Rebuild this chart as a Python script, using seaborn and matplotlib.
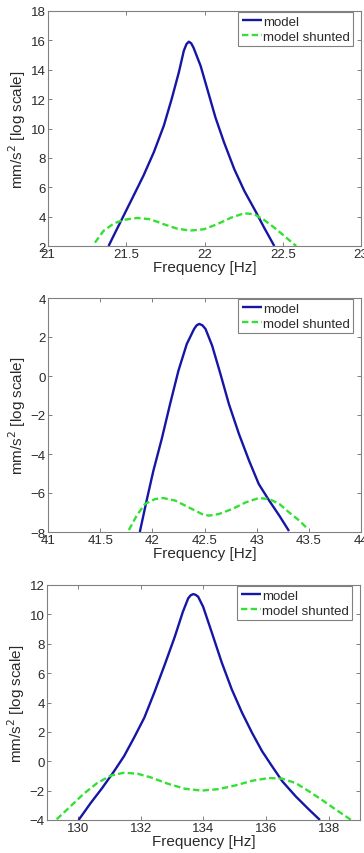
import numpy as np
import pandas as pd
import matplotlib
matplotlib.use("Agg")
import matplotlib.pyplot as plt
import seaborn as sns

sns.set_style("white")
plt.rcParams['font.family'] = ['Liberation Sans', 'DejaVu Sans']

# ---------------- data ----------------
# Panel 1 (around 22 Hz)
p1_model_x = [21.387, 21.43, 21.483, 21.547, 21.61, 21.676, 21.74, 21.79, 21.836, 21.868, 21.885, 21.90,
              21.915, 21.93, 21.975, 22.018, 22.07, 22.125, 22.19, 22.254, 22.33, 22.38, 22.446]
p1_model_y = [2.0, 2.93, 4.06, 5.43, 6.79, 8.38, 10.19, 12.0, 13.82, 15.3, 15.75, 15.91,
              15.8, 15.5, 14.27, 12.68, 10.75, 9.05, 7.24, 5.76, 4.29, 3.27, 2.0]
p1_shunt_x = [21.30, 21.354, 21.42, 21.483, 21.57, 21.654, 21.74, 21.825, 21.91, 21.997,
              22.08, 22.17, 22.254, 22.318, 22.38, 22.446, 22.51, 22.586]
p1_shunt_y = [2.23, 3.02, 3.53, 3.78, 3.91, 3.82, 3.48, 3.18, 3.05, 3.14,
              3.48, 3.93, 4.23, 4.16, 3.78, 3.25, 2.68, 2.0]

# Panel 2 (around 42.5 Hz)
p2_model_x = [41.88, 41.945, 42.01, 42.09, 42.17, 42.25, 42.33, 42.40, 42.425, 42.45, 42.48, 42.51,
              42.573, 42.653, 42.734, 42.83, 42.927, 43.02, 43.12, 43.217, 43.31]
p2_model_y = [-8.0, -6.39, -4.86, -3.23, -1.44, 0.27, 1.64, 2.41, 2.6, 2.67, 2.6, 2.41,
              1.56, 0.1, -1.44, -2.97, -4.34, -5.54, -6.39, -7.16, -7.95]
p2_shunt_x = [41.775, 41.85, 41.93, 42.026, 42.106, 42.22, 42.35, 42.476, 42.54, 42.637,
              42.766, 42.895, 43.02, 43.12, 43.217, 43.31, 43.41, 43.49]
p2_shunt_y = [-7.9, -7.16, -6.56, -6.31, -6.26, -6.39, -6.74, -7.08, -7.16, -7.08,
              -6.82, -6.48, -6.26, -6.31, -6.56, -6.99, -7.42, -7.85]

# Panel 3 (around 134 Hz)
p3_model_x = [130.01, 130.39, 130.76, 131.14, 131.46, 131.78, 132.11, 132.43, 132.75, 133.08,
              133.34, 133.51, 133.59, 133.67, 133.75, 133.83, 133.99, 134.26, 134.58, 134.90,
              135.23, 135.55, 135.87, 136.19, 136.52, 136.95, 137.38, 137.72]
p3_model_y = [-4.0, -2.86, -1.83, -0.69, 0.34, 1.6, 2.97, 4.69, 6.51, 8.46,
              10.17, 11.09, 11.3, 11.38, 11.33, 11.2, 10.51, 8.8, 6.74, 4.91,
              3.31, 1.94, 0.69, -0.34, -1.37, -2.4, -3.31, -4.0]
p3_shunt_x = [129.31, 129.74, 130.17, 130.60, 131.03, 131.46, 131.89, 132.32, 132.86, 133.40,
              133.94, 134.47, 135.01, 135.55, 136.09, 136.52, 136.95, 137.38, 137.81, 138.24, 138.72]
p3_shunt_y = [-3.95, -3.09, -2.22, -1.49, -0.98, -0.78, -0.85, -1.1, -1.53, -1.87,
              -2.0, -1.9, -1.65, -1.33, -1.14, -1.19, -1.49, -2.06, -2.67, -3.31, -4.0]

series_labels = ["model", "model shunted"]

p1_xticks = [21, 21.5, 22, 22.5, 23]
p1_xticklabels = ["21", "21.5", "22", "22.5", "23"]
p1_yticks = [2, 4, 6, 8, 10, 12, 14, 16, 18]
p2_xticks = [41, 41.5, 42, 42.5, 43, 43.5, 44]
p2_xticklabels = ["41", "41.5", "42", "42.5", "43", "43.5", "44"]
p2_yticks = [-8, -6, -4, -2, 0, 2, 4]
p3_xticks = [130, 132, 134, 136, 138]
p3_xticklabels = ["130", "132", "134", "136", "138"]
p3_yticks = [-4, -2, 0, 2, 4, 6, 8, 10, 12]

panels = [
    dict(mx=p1_model_x, my=p1_model_y, sx=p1_shunt_x, sy=p1_shunt_y,
         xlim=(21, 23), ylim=(2, 18), xt=p1_xticks, xtl=p1_xticklabels, yt=p1_yticks,
         rect=(48, 12, 361, 247)),
    dict(mx=p2_model_x, my=p2_model_y, sx=p2_shunt_x, sy=p2_shunt_y,
         xlim=(41, 44), ylim=(-8, 4), xt=p2_xticks, xtl=p2_xticklabels, yt=p2_yticks,
         rect=(48, 299, 361, 533)),
    dict(mx=p3_model_x, my=p3_model_y, sx=p3_shunt_x, sy=p3_shunt_y,
         xlim=(129, 139), ylim=(-4, 12), xt=p3_xticks, xtl=p3_xticklabels, yt=p3_yticks,
         rect=(47, 586, 360, 821)),
]

W, H = 364, 854
fig = plt.figure(figsize=(W / 100, H / 100), dpi=100)
fig.patch.set_facecolor("white")

blue = "#1616a6"
green = "#33e033"
txt = "#2a2a2a"
spine_c = "#808080"

for p in panels:
    x0, y0, x1, y1 = p["rect"]
    ax = fig.add_axes([x0 / W, 1 - y1 / H, (x1 - x0) / W, (y1 - y0) / H])
    dfm = pd.DataFrame({"f": p["mx"], "v": p["my"]})
    dfs = pd.DataFrame({"f": p["sx"], "v": p["sy"]})
    sns.lineplot(data=dfm, x="f", y="v", ax=ax, color=blue, linewidth=1.7,
                 sort=False, estimator=None, label=series_labels[0])
    sns.lineplot(data=dfs, x="f", y="v", ax=ax, color=green, linewidth=1.7,
                 sort=False, estimator=None, label=series_labels[1],
                 linestyle=(0, (2.7, 1.4)))
    ax.set_xlim(*p["xlim"])
    ax.set_ylim(*p["ylim"])
    ax.set_xticks(p["xt"])
    ax.set_xticklabels(p["xtl"])
    ax.set_yticks(p["yt"])
    ax.tick_params(direction="in", length=3, width=0.7, colors=spine_c,
                   labelcolor=txt, labelsize=9.5, top=True, right=True,
                   bottom=True, left=True, pad=1.5)
    for s in ax.spines.values():
        s.set_color(spine_c)
        s.set_linewidth(0.8)
        s.set_visible(True)
    ax.set_xlabel("Frequency [Hz]", fontsize=11, color=txt, labelpad=0)
    ax.set_ylabel("mm/s$^2$ [log scale]", fontsize=11, color=txt, labelpad=2)
    for ln in ax.lines:
        ln.set_solid_capstyle("butt")
        ln.set_dash_capstyle("butt")
        ln.set_solid_joinstyle("round")
        ln.set_dash_joinstyle("round")
    aw = x1 - x0
    ah = y1 - y0
    leg = ax.legend(loc="upper right", bbox_to_anchor=(1 - 8 / aw, 1 - 1 / ah),
                    borderaxespad=0, fontsize=9.5, frameon=True, fancybox=False,
                    framealpha=1, edgecolor=spine_c, handlelength=1.5,
                    handletextpad=0.1, labelspacing=0.25, borderpad=0.25)
    leg.get_frame().set_linewidth(0.8)
    for t in leg.get_texts():
        t.set_color(txt)

fig.savefig("out.png", dpi=100, facecolor="white")
